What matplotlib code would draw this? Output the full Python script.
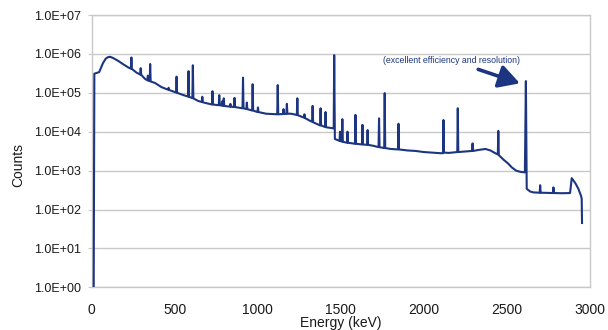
import matplotlib
matplotlib.use('Agg')
import matplotlib.pyplot as plt
from matplotlib.ticker import NullLocator

plt.rcParams['font.family'] = ['Liberation Sans', 'DejaVu Sans']

# ---- data (energy in keV, counts) ----
energy_kev = [12, 16, 30, 45, 55, 68, 85, 100, 112, 130, 160, 190, 220,
              236, 239, 242, 270, 292, 295, 298, 320, 335, 338, 341, 349, 352, 355,
              380, 420, 460, 463, 466, 508, 511, 514, 550, 580, 583, 586,
              606, 609, 612, 640, 663, 666, 669, 700, 724, 727, 730,
              765, 768, 771, 782, 785, 788, 792, 795, 798, 832, 835, 838,
              857, 860, 863, 908, 911, 914, 931, 934, 937, 966, 969, 972,
              998, 1001, 1004, 1050, 1117, 1120, 1123, 1152, 1155, 1158,
              1172, 1175, 1178, 1200, 1235, 1238, 1241, 1278, 1281, 1284,
              1310, 1327, 1330, 1333, 1375, 1378, 1381, 1405, 1408, 1411,
              1440, 1457, 1460, 1464, 1492, 1495, 1498, 1506, 1509, 1512,
              1537, 1540, 1543, 1585, 1588, 1591, 1627, 1630, 1633,
              1658, 1661, 1664, 1700, 1727, 1730, 1733, 1761, 1764, 1767,
              1800, 1844, 1847, 1850, 1900, 1950, 2000, 2050, 2100,
              2115, 2118, 2121, 2150, 2201, 2204, 2207, 2250, 2290, 2293, 2296,
              2330, 2370, 2400, 2430, 2445, 2448, 2451, 2480, 2505, 2530,
              2555, 2580, 2608, 2614, 2619, 2640, 2660, 2697, 2700, 2703,
              2740, 2777, 2780, 2783, 2830, 2880, 2890, 2900, 2915, 2930,
              2945, 2950, 2952]
counts = [1.05, 3.1e5, 3.25e5, 3.4e5, 4.3e5, 5.8e5, 7.6e5, 8.3e5, 8.4e5, 7.8e5, 6.6e5, 5.4e5, 4.5e5,
          4.15e5, 8.1e5, 4.1e5, 3.3e5, 2.95e5, 4.3e5, 2.9e5, 2.3e5, 2.1e5, 2.75e5, 2.05e5, 2.0e5, 5.5e5, 1.95e5,
          1.8e5, 1.4e5, 1.2e5, 1.35e5, 1.18e5, 1.02e5, 2.6e5, 1.0e5, 8.8e4, 8.0e4, 3.6e5, 7.9e4,
          7.3e4, 5.1e5, 7.2e4, 6.2e4, 5.8e4, 7.9e4, 5.7e4, 5.3e4, 5.0e4, 1.1e5, 5.0e4,
          4.8e4, 8.7e4, 4.8e4, 4.7e4, 6.0e4, 4.7e4, 4.6e4, 7.2e4, 4.6e4, 4.4e4, 5.2e4, 4.4e4,
          4.3e4, 7.4e4, 4.3e4, 4.0e4, 2.45e5, 4.0e4, 3.8e4, 5.6e4, 3.8e4, 3.5e4, 1.66e5, 3.5e4,
          3.2e4, 4.2e4, 3.2e4, 2.9e4, 2.8e4, 1.58e5, 2.8e4, 2.85e4, 3.8e4, 2.85e4,
          2.9e4, 5.2e4, 2.9e4, 2.9e4, 2.7e4, 7.2e4, 2.65e4, 2.3e4, 2.8e4, 2.25e4,
          1.95e4, 1.8e4, 4.6e4, 1.75e4, 1.45e4, 4.0e4, 1.45e4, 1.32e4, 3.2e4, 1.3e4,
          1.25e4, 1.22e4, 9.3e5, 6.5e3, 5.8e3, 1.0e4, 5.7e3, 5.6e3, 2.1e4, 5.5e3,
          5.2e3, 1.0e4, 5.2e3, 4.9e3, 2.7e4, 4.9e3, 4.7e3, 1.5e4, 4.7e3,
          4.6e3, 1.1e4, 4.6e3, 4.3e3, 4.0e3, 2.2e4, 4.0e3, 3.8e3, 9.8e4, 3.8e3,
          3.6e3, 3.5e3, 1.6e4, 3.5e3, 3.3e3, 3.2e3, 3.0e3, 2.9e3, 2.8e3,
          2.8e3, 2.0e4, 2.9e3, 2.85e3, 3.0e3, 4.0e4, 3.0e3, 3.1e3, 3.2e3, 5.0e3, 3.2e3,
          3.4e3, 3.6e3, 3.3e3, 2.8e3, 2.6e3, 1.05e4, 2.5e3, 1.9e3, 1.55e3, 1.2e3,
          1.0e3, 930, 900, 2.0e5, 340, 290, 275, 270, 420, 270,
          268, 265, 370, 265, 262, 265, 640, 560, 450, 340,
          230, 190, 45]

x_ticks = [0, 500, 1000, 1500, 2000, 2500, 3000]
y_ticks = [1e0, 1e1, 1e2, 1e3, 1e4, 1e5, 1e6, 1e7]
y_tick_labels = ["1.0E+00", "1.0E+01", "1.0E+02", "1.0E+03",
                 "1.0E+04", "1.0E+05", "1.0E+06", "1.0E+07"]

navy = '#1c3580'
grid_c = '#c8c8c8'

W, H = 608, 330
fig = plt.figure(figsize=(W / 100, H / 100), dpi=100)
ax = fig.add_axes([91.7 / W, 1 - 287.3 / H, (590 - 91.7) / W, (287.3 - 15) / H])

ax.plot(energy_kev, counts, color=navy, lw=1.5, zorder=3)

ax.set_yscale('log')
ax.set_xlim(0, 3000)
ax.set_ylim(1, 1e7)
ax.set_yticks(y_ticks)
ax.set_yticklabels(y_tick_labels)
ax.yaxis.set_minor_locator(NullLocator())
ax.set_xticks(x_ticks)
ax.set_xticklabels([str(t) for t in x_ticks])

ax.grid(axis='y', color=grid_c, lw=1.0, zorder=0)
for s in ax.spines.values():
    s.set_color(grid_c)
    s.set_linewidth(1.0)

ax.tick_params(axis='y', length=3, color=grid_c, pad=5, labelsize=9, labelcolor='#1a1a1a')
ax.tick_params(axis='x', length=0, pad=11, labelsize=10, labelcolor='#1a1a1a')

ax.annotate('', xy=(2578, 1.75e5), xytext=(2327, 4.0e5),
            arrowprops=dict(arrowstyle='-|>,head_length=0.9,head_width=0.5',
                            lw=2.6, color=navy, mutation_scale=14,
                            shrinkA=0, shrinkB=0))
ax.text(2169, 6.7e5, '(excellent efficiency and resolution)', fontsize=6.3,
        ha='center', va='center', color=navy)

fig.text(18 / W, 1 - 165 / H, 'Counts', rotation=90, ha='center', va='center',
         fontsize=10, color='#1a1a1a')
fig.text(341 / W, 1 - 323.3 / H, 'Energy (keV)', ha='center', va='center',
         fontsize=10, color='#1a1a1a')

fig.savefig('out.png', dpi=100)
